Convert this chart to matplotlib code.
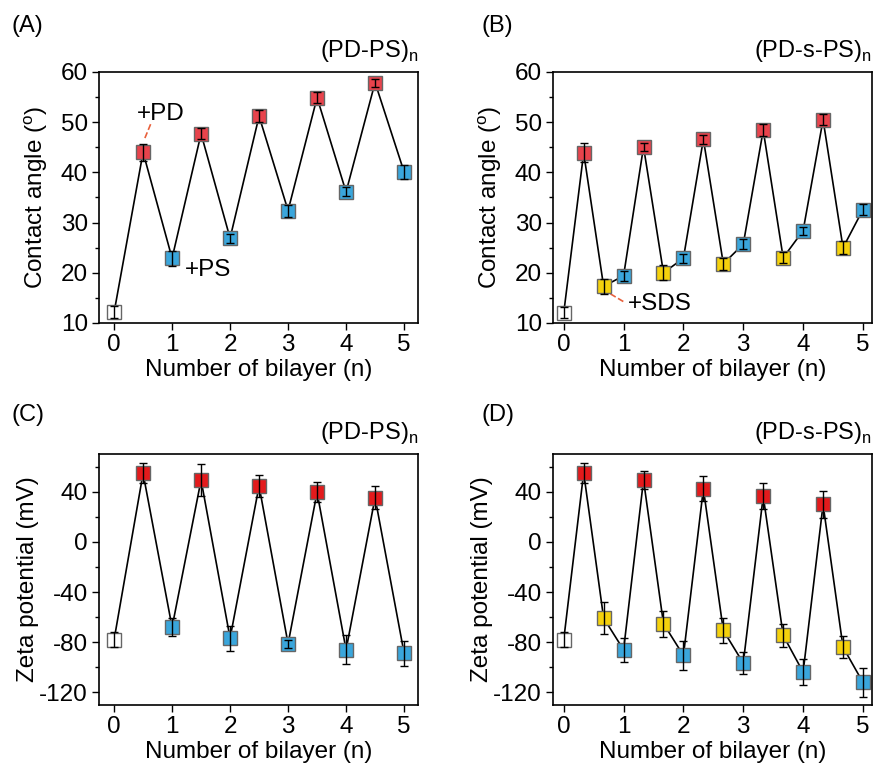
import matplotlib
matplotlib.use("Agg")
import matplotlib.pyplot as plt
from matplotlib.ticker import MultipleLocator

plt.rcParams['font.family'] = ['Liberation Sans', 'DejaVu Sans']
plt.rcParams['mathtext.fontset'] = 'custom'
plt.rcParams['mathtext.rm'] = 'Liberation Sans'
plt.rcParams['axes.unicode_minus'] = False

# colores de los marcadores
ROJO_AB = '#e8434c'
ROJO_CD = '#e31a1c'
AZUL = '#3aa6dc'
AMARILLO = '#f5d10c'
BLANCO = 'white'

# (A) angulo de contacto, (PD-PS)n
x_a = [0, 0.5, 1, 1.5, 2, 2.5, 3, 3.5, 4, 4.5, 5]
y_a = [12.1, 44.0, 22.9, 47.7, 26.9, 51.2, 32.4, 54.9, 36.1, 57.9, 40.1]
err_a = [1.2, 1.7, 1.5, 1.05, 0.9, 1.2, 1.2, 1.1, 0.9, 0.8, 1.4]
col_a = ['w', 'r', 'b', 'r', 'b', 'r', 'b', 'r', 'b', 'r', 'b']

# (B) angulo de contacto, (PD-s-PS)n
x_b = [0, 1/3, 2/3, 1, 4/3, 5/3, 2, 7/3, 8/3, 3, 10/3, 11/3, 4, 13/3, 14/3, 5]
y_b = [12.0, 43.9, 17.3, 19.4, 45.1, 20.0, 22.9, 46.6, 21.8, 25.7, 48.4, 23.0, 28.4, 50.5, 25.0, 32.6]
err_b = [1.1, 1.9, 1.5, 1.0, 0.8, 1.5, 0.9, 0.9, 1.2, 1.0, 1.25, 1.15, 0.8, 1.15, 1.3, 1.1]
col_b = ['w', 'r', 'y', 'b', 'r', 'y', 'b', 'r', 'y', 'b', 'r', 'y', 'b', 'r', 'y', 'b']

# (C) potencial zeta, (PD-PS)n
y_c = [-78, 54.6, -68, 49.3, -76.7, 44.6, -81.2, 39.5, -86, 35.3, -88.6]
err_c = [6, 8, 7, 13, 10, 9, 3, 8, 11.5, 9, 10]

# (D) potencial zeta, (PD-s-PS)n
y_d = [-78, 55.1, -60.7, -86, 49.3, -65.2, -90.5, 42.3, -70.6, -96.6, 36.5, -74.5, -103.8, 29.8, -83.9, -112]
err_d = [6, 8, 13, 9.5, 7.5, 10.5, 11.3, 10, 10, 8.6, 10.5, 9, 10.3, 10.5, 9, 11.8]

FS = 17.5


def dibujar_panel(ax, x, y, err, cols, rojo):
    colores = {'w': BLANCO, 'r': rojo, 'b': AZUL, 'y': AMARILLO}
    ax.plot(x, y, color='black', lw=1.2, zorder=1)
    for xi, yi, ci in zip(x, y, cols):
        ax.plot(xi, yi, marker='s', ms=10.5, mfc=colores[ci], mec='#666666',
                mew=1.0, ls='none', zorder=2)
    ax.errorbar(x, y, yerr=err, fmt='none', ecolor='black', elinewidth=1.0,
                capsize=3, capthick=1.0, zorder=3)
    ax.set_xticks(range(6))
    ax.set_xlabel('Number of bilayer (n)', fontsize=FS, labelpad=2)
    ax.tick_params(axis='both', which='major', direction='out', length=5,
                   width=1, labelsize=FS, pad=3)
    ax.tick_params(axis='y', which='minor', direction='out', length=3, width=1)
    for s in ax.spines.values():
        s.set_linewidth(1.2)


fig = plt.figure(figsize=(8.73, 7.65), dpi=100)

ax_a = fig.add_axes([0.1134, 0.5778, 0.3654, 0.3281])
ax_b = fig.add_axes([0.6334, 0.5778, 0.3654, 0.3281])
ax_c = fig.add_axes([0.1134, 0.0784, 0.3654, 0.3281])
ax_d = fig.add_axes([0.6334, 0.0784, 0.3654, 0.3281])

dibujar_panel(ax_a, x_a, y_a, err_a, col_a, ROJO_AB)
dibujar_panel(ax_b, x_b, y_b, err_b, col_b, ROJO_AB)
dibujar_panel(ax_c, x_a, y_c, err_c, col_a, ROJO_CD)
dibujar_panel(ax_d, x_b, y_d, err_d, col_b, ROJO_CD)

for ax in (ax_a, ax_b):
    ax.set_ylim(10, 60)
    ax.yaxis.set_major_locator(MultipleLocator(10))
    ax.yaxis.set_minor_locator(MultipleLocator(5))
    ax.set_ylabel('Contact angle ($^\\mathrm{o}$)', fontsize=FS, labelpad=8)

for ax in (ax_c, ax_d):
    ax.set_ylim(-130, 70)
    ax.yaxis.set_major_locator(MultipleLocator(40))
    ax.yaxis.set_minor_locator(MultipleLocator(20))
    ax.set_ylabel('Zeta potential (mV)', fontsize=FS, labelpad=0)

ax_a.set_xlim(-0.26, 5.24)
ax_c.set_xlim(-0.26, 5.24)
ax_b.set_xlim(-0.18, 5.15)
ax_d.set_xlim(-0.18, 5.15)

# titulos de cada panel
for ax, t in ((ax_a, '(PD-PS)$_\\mathrm{n}$'), (ax_b, '(PD-s-PS)$_\\mathrm{n}$'),
              (ax_c, '(PD-PS)$_\\mathrm{n}$'), (ax_d, '(PD-s-PS)$_\\mathrm{n}$')):
    ax.text(1.0, 1.03, t, transform=ax.transAxes, ha='right', va='bottom', fontsize=17)

# letras de los paneles
for (px, py), letra in (((0.013, 0.966), '(A)'), ((0.552, 0.966), '(B)'),
                        ((0.013, 0.457), '(C)'), ((0.552, 0.457), '(D)')):
    fig.text(px, py, letra, fontsize=17, ha='left', va='center')

# anotaciones
ax_a.text(0.81, 51.6, '+PD', fontsize=FS, ha='center', va='center')
ax_a.plot([0.63, 0.53], [49.6, 46.8], ls='--', color='#e8603c', lw=1.2, zorder=1)
ax_a.text(1.22, 20.6, '+PS', fontsize=FS, ha='left', va='center')
ax_b.text(1.07, 13.8, '+SDS', fontsize=FS, ha='left', va='center')
ax_b.plot([0.78, 1.02], [15.8, 14.1], ls='--', color='#e8603c', lw=1.2, zorder=1)

fig.savefig('out.png', dpi=100)
